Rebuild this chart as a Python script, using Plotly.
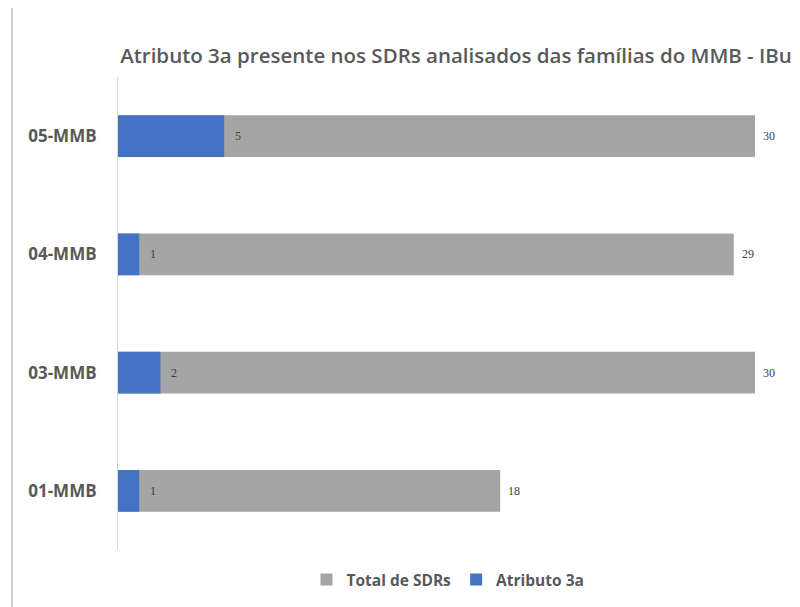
import plotly.graph_objects as go

categories = ["01-MMB", "03-MMB", "04-MMB", "05-MMB"]
total_sdrs = [18, 30, 29, 30]
atributo_3a = [1, 2, 1, 5]

label_font = dict(size=12, color="#404040", family="Liberation Serif")

fig = go.Figure()
fig.add_trace(go.Bar(
    y=categories, x=total_sdrs, orientation="h", name="Total de SDRs",
    marker=dict(color="#A5A5A5", line=dict(width=0)),
))
fig.add_trace(go.Bar(
    y=categories, x=atributo_3a, orientation="h", name="Atributo 3a",
    marker=dict(color="#4472C4", line=dict(width=0)),
))

annotations = []
for cat, tot, att in zip(categories, total_sdrs, atributo_3a):
    annotations.append(dict(x=tot, y=cat, text=str(tot), showarrow=False,
                            xanchor="left", xshift=6, font=label_font))
    annotations.append(dict(x=att, y=cat, text=str(att), showarrow=False,
                            xanchor="left", xshift=9, font=label_font))

L, R, T, B = 110, 53, 69, 65
PW, PH = 800 - L - R, 607 - T - B

fig.update_layout(
    width=800, height=607,
    barmode="overlay", bargap=0.645,
    paper_bgcolor="white", plot_bgcolor="white",
    margin=dict(l=L, r=R, t=T, b=B),
    font=dict(family="Open Sans", color="#595959"),
    title=dict(
        text="Atributo 3a presente nos SDRs analisados das famílias do MMB - IBu",
        x=0.56, xanchor="center", y=0.922, yanchor="middle",
        font=dict(size=20.5, color="#595959", family="Open Sans", weight=600),
    ),
    xaxis=dict(range=[0, 30], visible=False, showgrid=False, zeroline=False,
               automargin=False),
    yaxis=dict(
        showline=True, linecolor="#D9D9D9", linewidth=1,
        ticks="", ticklabelstandoff=17, automargin=False,
        tickfont=dict(size=17, color="#595959", family="Open Sans", weight=700),
        showgrid=False,
    ),
    legend=dict(
        orientation="h", x=0.518, xanchor="center", y=-0.0275, yanchor="top",
        font=dict(size=15.5, color="#595959", family="Open Sans", weight=700),
        traceorder="normal", itemwidth=30,
    ),
    showlegend=True,
    annotations=annotations,
    shapes=[dict(type="line", xref="paper", yref="paper",
                 x0=(4 - L) / PW, x1=(4 - L) / PW, y0=-B / PH, y1=(PH + T) / PH,
                 line=dict(color="#A0A0A0", width=1))],
)

fig.write_html("out.html")
